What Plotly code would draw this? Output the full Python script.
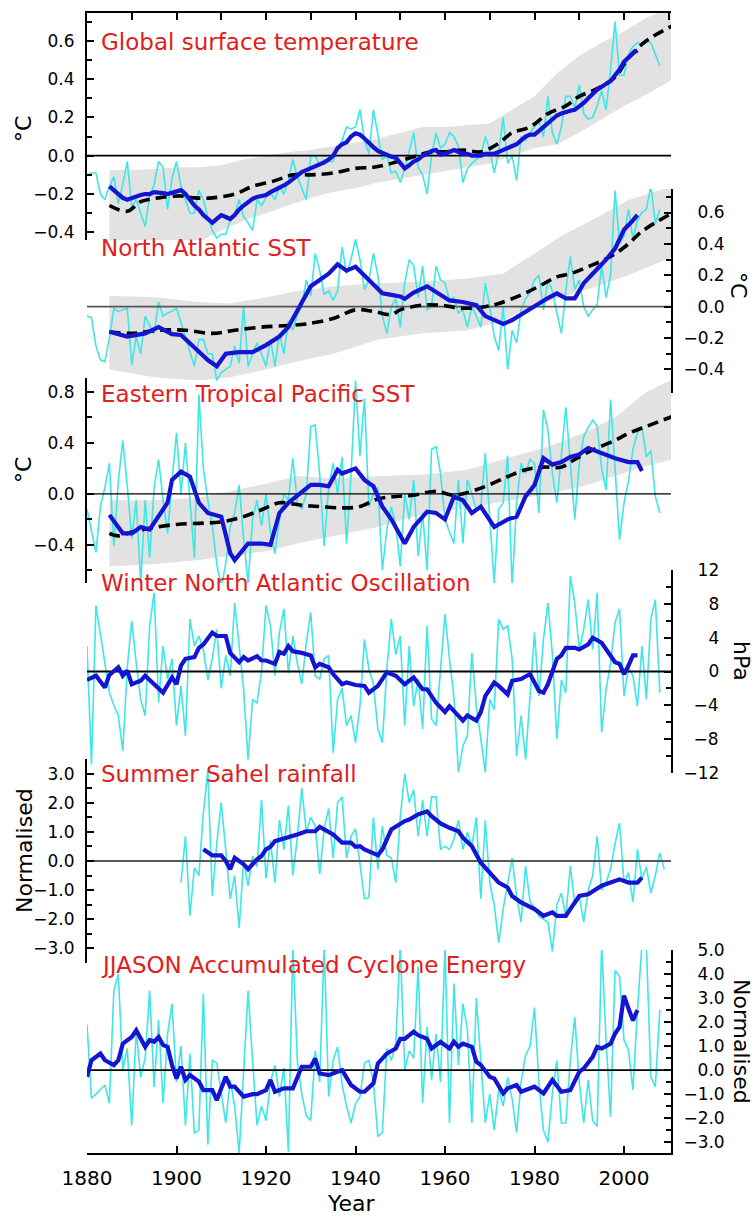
import plotly.graph_objects as go

# ---------------- canvas / layout geometry ----------------
W, H = 756, 1216
ML, MR, MT, MB = 87, 85, 13, 63
PW = W - ML - MR
PH = H - MT - MB
X_RANGE = [1880, 2010.5]


def ypap(px):
    return (H - MB - px) / PH


def xpap(px):
    return (px - ML) / PW


FONT = "DejaVu Sans"
CYAN = "#3ee6e6"
BLUE = "#1414d2"
GREY = "#e2e2e2"
RED = "#e0201c"

# ---------------- DATA ----------------
# Panel 1: Global surface temperature (annual, from 1880)
glob_start = 1880
glob_annual = [-0.10, -0.09, -0.09, -0.20, -0.23, -0.16, -0.11, -0.25, -0.15, -0.03,
               -0.27, -0.23, -0.30, -0.37, -0.21, -0.15, -0.03, -0.06, -0.28, -0.12,
               -0.03, -0.16, -0.23, -0.30, -0.30, -0.18, -0.23, -0.32, -0.39, -0.43,
               -0.41, -0.41, -0.34, -0.30, -0.23, -0.32, -0.35, -0.39, -0.23, -0.26,
               -0.22, -0.19, -0.23, -0.16, -0.20, -0.13, -0.02, -0.11, -0.17, -0.23,
               0.00, 0.00, -0.05, -0.02, -0.03, -0.03, 0.04, 0.08, 0.15, 0.14,
               0.15, 0.24, 0.08, 0.01, 0.24, 0.10, -0.02, 0.00, -0.09, -0.08,
               -0.14, -0.07, 0.02, 0.12, -0.06, -0.10, -0.20, 0.00, 0.12, 0.04,
               0.06, 0.12, 0.10, 0.05, -0.14, -0.07, -0.04, -0.02, 0.00, 0.10,
               0.03, -0.09, 0.02, 0.20, -0.04, 0.00, -0.13, 0.10, 0.08, 0.12,
               0.15, 0.18, 0.10, 0.31, 0.12, 0.06, 0.15, 0.31, 0.31, 0.25,
               0.37, 0.22, 0.19, 0.20, 0.26, 0.34, 0.24, 0.45, 0.70, 0.42,
               0.42, 0.53, 0.57, 0.59, 0.58, 0.60, 0.59, 0.53, 0.47]
glob_smooth_start = 1885
glob_smooth = [-0.16, -0.18, -0.20, -0.22, -0.23, -0.22, -0.21, -0.205, -0.20, -0.20,
               -0.19, -0.19, -0.195, -0.20, -0.195, -0.185, -0.18, -0.20, -0.23, -0.26,
               -0.28, -0.31, -0.33, -0.35, -0.33, -0.31, -0.32, -0.33, -0.31, -0.28,
               -0.26, -0.24, -0.225, -0.215, -0.21, -0.205, -0.19, -0.18, -0.17, -0.155,
               -0.14, -0.12, -0.10, -0.085, -0.075, -0.065, -0.055, -0.05, -0.035, -0.02,
               0.00, 0.04, 0.06, 0.07, 0.10, 0.117, 0.11, 0.09, 0.065, 0.045,
               0.025, 0.015, 0.00, -0.005, -0.01, -0.04, -0.066, -0.05, -0.03, -0.02,
               0.00, 0.01, 0.025, 0.03, 0.005, 0.01, 0.02, 0.03, 0.02, 0.01,
               0.01, 0.00, 0.00, 0.00, 0.01, 0.01, 0.01, 0.02, 0.03, 0.04,
               0.05, 0.06, 0.08, 0.10, 0.11, 0.11, 0.13, 0.15, 0.17, 0.19,
               0.21, 0.22, 0.23, 0.235, 0.24, 0.255, 0.275, 0.30, 0.325, 0.345,
               0.36, 0.375, 0.39, 0.42, 0.45, 0.49, 0.515, 0.535, 0.55]
glob_model_years = [1885, 1889, 1892, 1896, 1901, 1904, 1908, 1913, 1917, 1922, 1926, 1930,
                    1935, 1940, 1944, 1948, 1953, 1957, 1960, 1964, 1968, 1972, 1975, 1979,
                    1983, 1987, 1990, 1994, 1998, 2001, 2005, 2011]
glob_model = [-0.26, -0.29, -0.24, -0.22, -0.21, -0.22, -0.22, -0.20, -0.16, -0.13, -0.10, -0.10,
              -0.09, -0.066, -0.06, -0.04, -0.005, 0.02, 0.02, 0.03, 0.02, 0.065, 0.12, 0.15,
              0.22, 0.26, 0.31, 0.35, 0.41, 0.51, 0.60, 0.68]
glob_band_years = [1885, 1890, 1895, 1900, 1905, 1910, 1915, 1920, 1925, 1930, 1935, 1940, 1945,
                   1950, 1955, 1960, 1965, 1970, 1975, 1980, 1985, 1990, 1995, 2000, 2005, 2011]
glob_band_hi = [-0.075, -0.075, -0.07, -0.06, -0.06, -0.05, -0.02, 0.00, 0.02, 0.03, 0.05, 0.07,
                0.09, 0.12, 0.15, 0.15, 0.16, 0.17, 0.24, 0.31, 0.43, 0.52, 0.59, 0.65, 0.72, 0.78]
glob_band_lo = [-0.47, -0.47, -0.47, -0.46, -0.45, -0.39, -0.34, -0.30, -0.26, -0.22, -0.19, -0.17,
                -0.14, -0.12, -0.10, -0.08, -0.06, -0.04, 0.00, 0.04, 0.06, 0.12, 0.19, 0.26, 0.32, 0.40]

# Panel 2: North Atlantic SST
nat_start = 1880
nat_annual = [-0.06, -0.07, -0.25, -0.34, -0.35, -0.20, -0.01, -0.03, -0.02, -0.01,
              -0.37, -0.19, -0.30, -0.06, -0.12, -0.17, 0.03, -0.06, -0.04, -0.03,
              -0.01, -0.10, -0.19, -0.28, -0.38, -0.21, -0.21, -0.30, -0.30, -0.47,
              -0.42, -0.40, -0.38, -0.25, -0.36, 0.00, -0.38, -0.30, -0.23, -0.30,
              -0.38, -0.21, -0.38, -0.17, -0.30, -0.09, -0.15, -0.05, 0.00, 0.17,
              0.07, 0.34, 0.23, 0.08, 0.10, 0.04, 0.10, 0.38, 0.21, 0.30,
              0.43, 0.30, 0.11, 0.17, 0.34, 0.20, -0.06, -0.17, 0.00, 0.05,
              -0.13, 0.15, 0.30, 0.26, 0.06, 0.26, -0.02, 0.00, 0.26, 0.17,
              0.15, 0.04, 0.06, -0.04, -0.02, -0.13, 0.00, -0.06, -0.13, 0.15,
              0.00, -0.19, -0.28, 0.00, -0.40, -0.15, -0.23, -0.02, 0.05, 0.09,
              0.17, 0.20, -0.02, 0.17, 0.10, -0.04, -0.17, 0.10, 0.32, 0.11,
              0.17, 0.00, -0.06, -0.02, 0.01, 0.26, 0.06, 0.20, 0.74, 0.40,
              0.45, 0.62, 0.43, 0.55, 0.60, 0.62, 0.77, 0.53, 0.62]
nat_smooth_years = [1885, 1889, 1893, 1896, 1899, 1901, 1904, 1907, 1909, 1911, 1914, 1917, 1920,
                    1923, 1925, 1928, 1930, 1932, 1934, 1936, 1938, 1940, 1943, 1946, 1948, 1950,
                    1951, 1953, 1956, 1959, 1961, 1964, 1967, 1969, 1973, 1975, 1978, 1981, 1983,
                    1985, 1987, 1989, 1991, 1993, 1996, 1998, 2000, 2002, 2003]
nat_smooth = [-0.16, -0.19, -0.17, -0.13, -0.175, -0.18, -0.26, -0.34, -0.38, -0.30, -0.29, -0.29,
              -0.245, -0.19, -0.13, 0.02, 0.13, 0.17, 0.21, 0.27, 0.23, 0.255, 0.17, 0.085, 0.075,
              0.065, 0.05, 0.09, 0.13, 0.075, 0.04, 0.03, 0.01, -0.06, -0.11, -0.085, -0.03, 0.02,
              0.055, 0.085, 0.053, 0.053, 0.15, 0.21, 0.30, 0.37, 0.49, 0.55, 0.585]
nat_model_years = [1885, 1890, 1896, 1902, 1908, 1913, 1919, 1925, 1929, 1935, 1940, 1944, 1948,
                   1950, 1955, 1959, 1964, 1969, 1972, 1977, 1981, 1985, 1988, 1992, 1997, 2001,
                   2004, 2011]
nat_model = [-0.16, -0.17, -0.15, -0.15, -0.17, -0.15, -0.13, -0.12, -0.11, -0.075, -0.02, -0.03,
             -0.05, -0.02, 0.01, 0.01, -0.01, 0.00, 0.02, 0.075, 0.13, 0.19, 0.21, 0.255, 0.32,
             0.40, 0.48, 0.60]
nat_band_years = [1885, 1895, 1905, 1912, 1920, 1927, 1935, 1945, 1955, 1965, 1973, 1979, 1986,
                  1994, 2001, 2011]
nat_band_hi = [0.07, 0.06, 0.03, 0.02, 0.06, 0.10, 0.13, 0.15, 0.16, 0.18, 0.21, 0.32, 0.45,
               0.57, 0.68, 0.77]
nat_band_lo = [-0.40, -0.45, -0.47, -0.45, -0.40, -0.35, -0.30, -0.21, -0.17, -0.15, -0.09, 0.00,
               0.06, 0.13, 0.20, 0.32]

# Panel 3: Eastern Tropical Pacific SST
etp_start = 1880
etp_annual = [-0.12, -0.30, -0.46, -0.10, 0.05, 0.24, -0.41, 0.10, 0.42, 0.06,
              -0.35, -0.05, -0.70, -0.05, -0.50, 0.05, 0.27, -0.05, -0.31, 0.10,
              0.48, 0.00, 0.40, -0.05, -0.50, 0.78, 0.20, -0.05, -0.25, -0.55,
              -0.73, -0.55, -0.26, -0.15, 0.07, -0.35, -0.70, -0.20, -0.05, -0.25,
              0.00, -0.30, -0.47, -0.20, 0.00, -0.05, 0.28, -0.07, -0.12, 0.00,
              0.53, 0.54, 0.15, -0.41, 0.05, 0.24, 0.00, 0.29, -0.39, 0.15,
              0.89, 0.30, 0.75, -0.10, 0.00, 0.05, -0.60, -0.28, -0.10, -0.25,
              -0.57, 0.00, -0.20, 0.11, -0.49, -0.15, -0.60, 0.35, 0.37, 0.16,
              -0.20, -0.30, -0.39, 0.11, -0.39, 0.11, 0.00, -0.13, -0.10, 0.32,
              -0.20, -0.70, -0.12, -0.07, 0.30, -0.73, -0.07, 0.24, 0.16, 0.27,
              0.24, -0.15, 0.66, 0.50, 0.16, -0.07, 0.30, 0.68, 0.24, -0.20,
              0.24, 0.45, 0.52, 0.58, 0.53, 0.20, 0.03, 0.74, 0.20, -0.36,
              -0.07, 0.10, 0.35, 0.48, 0.53, 0.29, 0.34, -0.02, -0.15]
etp_smooth_years = [1885, 1888, 1890, 1892, 1894, 1896, 1898, 1899, 1901, 1903, 1905, 1907, 1910,
                    1912, 1913, 1916, 1919, 1921, 1923, 1925, 1928, 1930, 1932, 1934, 1936, 1937,
                    1940, 1942, 1944, 1946, 1948, 1951, 1953, 1956, 1958, 1960, 1962, 1964, 1966,
                    1968, 1971, 1974, 1976, 1978, 1980, 1982, 1984, 1986, 1988, 1990, 1992, 1995,
                    1998, 2001, 2003, 2004]
etp_smooth = [-0.165, -0.31, -0.31, -0.26, -0.28, -0.18, -0.07, 0.11, 0.175, 0.135, -0.07, -0.15,
              -0.18, -0.465, -0.52, -0.39, -0.39, -0.40, -0.15, -0.07, 0.02, 0.07, 0.07, 0.06,
              0.19, 0.16, 0.20, 0.11, 0.06, -0.10, -0.20, -0.39, -0.26, -0.14, -0.15, -0.20,
              -0.02, -0.05, -0.15, -0.10, -0.26, -0.20, -0.18, -0.02, 0.07, 0.28, 0.23, 0.25,
              0.29, 0.31, 0.36, 0.32, 0.28, 0.25, 0.25, 0.18]
etp_model_years = [1885, 1887, 1890, 1894, 1900, 1906, 1910, 1914, 1919, 1923, 1928, 1932, 1937,
                   1941, 1945, 1949, 1953, 1958, 1962, 1968, 1974, 1978, 1982, 1986, 1989, 1993,
                   1998, 2001, 2005, 2011]
etp_model = [-0.31, -0.33, -0.30, -0.27, -0.24, -0.23, -0.22, -0.19, -0.125, -0.07, -0.09, -0.10,
             -0.11, -0.10, -0.04, -0.02, -0.01, 0.02, -0.01, 0.045, 0.135, 0.19, 0.21, 0.21,
             0.27, 0.345, 0.42, 0.475, 0.53, 0.61]
etp_band_years = [1885, 1895, 1905, 1912, 1920, 1927, 1935, 1945, 1955, 1965, 1975, 1983, 1991,
                  1998, 2005, 2011]
etp_band_hi = [-0.05, -0.05, -0.03, 0.02, 0.08, 0.14, 0.12, 0.14, 0.15, 0.19, 0.29, 0.37, 0.48,
               0.60, 0.80, 0.90]
etp_band_lo = [-0.57, -0.55, -0.52, -0.49, -0.45, -0.39, -0.33, -0.26, -0.16, -0.11, -0.05, 0.00,
               0.06, 0.14, 0.22, 0.27]

# Panel 4: Winter North Atlantic Oscillation (hPa)
nao_start = 1880
nao_annual = [3.0, -11.0, 7.8, 4.6, 1.0, -2.5, -4.0, -5.2, -9.4, 0.5,
              6.0, 1.0, -3.3, -5.2, 5.4, 9.3, -3.7, 3.0, -0.9, 1.5,
              -6.4, -1.7, -7.6, 6.2, 3.0, 4.2, 2.6, -1.0, 1.5, 5.0,
              -2.0, 1.9, -0.5, 8.1, 2.6, -2.1, -10.4, -3.3, -3.7, 0.0,
              7.8, 5.4, -0.5, 4.6, 7.4, -0.2, 4.2, 1.0, -1.5, 3.4,
              7.0, -0.5, -0.9, 1.5, 1.9, -9.6, -3.3, -2.0, -6.4, -5.2,
              -8.4, -4.0, 3.8, 0.3, -1.5, -6.8, -8.4, 0.3, 6.2, 2.0,
              4.2, -6.4, 3.0, -4.1, -0.9, -6.8, 5.4, -5.6, -6.4, 0.0,
              6.8, 1.5, -3.0, -11.9, -8.8, -7.6, 2.2, -4.1, -8.0, -11.9,
              -3.3, -4.5, 6.2, 5.0, 5.4, 1.5, -10.0, -5.2, -10.4, -3.0,
              4.6, -2.9, 3.8, 8.1, 2.0, -8.0, -1.0, -2.5, 11.3, 8.1,
              2.6, 5.0, 8.5, 2.6, 9.3, -7.2, -2.1, 1.0, 5.8, 7.4,
              -2.9, 0.5, -0.5, -4.1, 3.0, -3.3, 6.2, 8.5, -2.5]
nao_smooth_years = [1880, 1882, 1884, 1885, 1887, 1888, 1889, 1890, 1892, 1893, 1895, 1897, 1899,
                    1900, 1901, 1902, 1904, 1905, 1906, 1908, 1909, 1911, 1912, 1914, 1915, 1916,
                    1918, 1919, 1920, 1922, 1923, 1924, 1925, 1926, 1928, 1930, 1931, 1932, 1934,
                    1935, 1937, 1938, 1940, 1942, 1943, 1945, 1947, 1949, 1951, 1953, 1955, 1956,
                    1958, 1960, 1961, 1964, 1965, 1967, 1968, 1969, 1971, 1972, 1974, 1975, 1977,
                    1979, 1981, 1982, 1983, 1985, 1986, 1987, 1989, 1990, 1992, 1993, 1995, 1996,
                    1997, 1998, 1999, 2000, 2001, 2002, 2003]
nao_smooth = [-1.0, -0.5, -1.9, -0.4, 0.5, -0.5, 0.1, -1.5, -1.1, -0.5, -1.5, -2.5, -0.7,
              -1.5, 0.7, 1.5, 1.7, 2.8, 3.2, 4.6, 4.2, 4.2, 2.2, 1.1, 1.7, 1.3,
              1.8, 1.3, 1.3, 0.9, 2.3, 2.1, 3.0, 2.4, 2.2, 1.9, 0.5, 0.9, 0.5,
              -0.3, -1.5, -1.3, -1.6, -1.7, -2.5, -1.7, -0.1, -0.5, -1.5, -0.7, -2.1, -2.1,
              -3.7, -4.8, -4.1, -5.8, -5.2, -5.8, -4.8, -2.9, -1.3, -1.7, -2.7, -1.1, -0.9,
              -0.3, -2.3, -2.5, -1.5, 1.5, 1.9, 2.8, 2.8, 2.6, 3.2, 4.0, 3.4, 2.6,
              1.9, 1.1, 0.9, -0.3, 0.7, 1.9, 1.9]

# Panel 5: Summer Sahel rainfall (normalised)
sahel_start = 1901
sahel_annual = [-0.74, 0.85, -1.88, -0.23, -0.50, 1.65, 3.10, -1.20, 0.60, 2.00,
                0.40, -1.30, -0.50, -2.30, 0.00, -0.85, 0.17, -0.20, 2.10, -0.60,
                0.70, -0.74, 1.40, 0.40, 1.90, -0.50, 0.80, 2.50, 1.00, 1.50,
                1.20, -0.45, 1.10, 1.80, 0.10, 2.00, 2.20, 0.10, 0.85, 1.10,
                -0.10, -1.30, -1.25, 1.50, -0.30, 1.20, 0.20, 0.10, -0.74, 1.50,
                3.00, 2.00, 2.45, 0.85, 2.10, 0.85, 2.20, 2.20, 0.40, 0.50,
                0.40, 0.74, 1.40, 0.40, 1.00, 0.50, 1.50, -1.30, 1.40, -0.74,
                -1.50, -2.80, -1.65, -0.74, 0.10, -1.20, -2.10, -0.17, -1.40, -1.60,
                -1.90, -2.00, -2.10, -3.10, -1.50, -1.10, -1.90, -0.17, -1.50, -1.20,
                -2.10, -1.00, -0.50, 0.85, -1.00, -0.74, -0.28, 0.60, 1.30, -0.74,
                -0.40, -1.40, 0.40, -0.63, -0.20, -1.10, -0.50, 0.28, -0.28]
sahel_smooth_years = [1906, 1908, 1910, 1911, 1912, 1913, 1915, 1916, 1918, 1919, 1920, 1921,
                      1922, 1924, 1925, 1927, 1929, 1931, 1932, 1934, 1935, 1937, 1939, 1940,
                      1941, 1942, 1944, 1945, 1946, 1947, 1948, 1951, 1952, 1954, 1956, 1957,
                      1959, 1961, 1963, 1964, 1966, 1968, 1970, 1972, 1974, 1975, 1977, 1980,
                      1982, 1984, 1985, 1987, 1988, 1990, 1992, 1995, 1997, 1999, 2001, 2003,
                      2004]
sahel_smooth = [0.40, 0.19, 0.19, 0.00, -0.28, 0.11, -0.11, -0.28, 0.06, 0.17, 0.40, 0.49,
                0.68, 0.76, 0.83, 0.91, 1.02, 1.02, 1.17, 1.02, 0.91, 0.63, 0.63, 0.49,
                0.51, 0.40, 0.28, 0.20, 0.40, 0.74, 1.08, 1.37, 1.42, 1.60, 1.70, 1.54,
                1.29, 1.14, 1.02, 0.80, 0.51, -0.06, -0.40, -0.74, -0.91, -1.20, -1.42, -1.65,
                -1.88, -1.76, -1.88, -1.88, -1.65, -1.20, -1.14, -0.85, -0.74, -0.63, -0.74, -0.74,
                -0.57]

# Panel 6: JJASON Accumulated Cyclone Energy (normalised)
ace_start = 1880
ace_annual = [1.90, -1.18, -1.00, -0.80, -0.62, -1.38, 3.30, 4.00, 0.00, 0.90,
              -2.30, 1.66, -0.30, 0.50, 3.30, -0.70, 2.10, -1.38, 1.50, 2.77,
              -0.50, 1.00, -2.30, 0.69, -2.63, -2.50, 3.18, -3.10, 0.41, 0.30,
              -0.90, -2.20, -0.40, -1.50, -3.46, -0.20, 3.30, 0.40, -2.30, -1.50,
              -2.10, -0.50, 0.20, -1.10, 0.10, -3.40, 5.20, 0.40, -1.00, -1.90,
              -2.10, 0.80, -0.50, 5.20, -1.10, 0.40, 0.97, -0.60, -1.50, -2.20,
              -1.40, -1.10, 0.30, 0.40, -0.50, -2.77, -2.60, 0.90, 0.40, 1.10,
              5.20, 0.00, 0.80, 0.50, 4.30, -1.38, 1.80, -0.40, 1.50, -0.50,
              5.20, -2.20, 3.60, 0.20, 2.77, 1.70, -2.20, 3.00, 0.40, -2.20,
              -1.00, -2.50, -0.80, -1.50, -0.30, -1.20, -2.60, -0.50, 0.60, 1.00,
              2.60, -0.55, -2.50, -3.00, -0.97, 0.40, -2.20, -2.20, 0.40, 2.20,
              -0.50, -2.20, -0.40, -2.10, -2.35, 5.20, 1.20, -1.94, 4.15, 3.90,
              1.25, 0.83, -0.83, 2.50, 5.20, 5.20, -0.28, -0.70, 2.50]
ace_smooth_years = [1880, 1881, 1883, 1884, 1886, 1887, 1888, 1890, 1891, 1892, 1893, 1894, 1895,
                    1896, 1897, 1898, 1899, 1900, 1901, 1902, 1903, 1905, 1906, 1908, 1909, 1911,
                    1912, 1913, 1915, 1917, 1918, 1920, 1921, 1922, 1924, 1926, 1928, 1930, 1931,
                    1932, 1934, 1937, 1939, 1941, 1942, 1944, 1945, 1947, 1949, 1950, 1951, 1953,
                    1954, 1956, 1957, 1959, 1961, 1962, 1963, 1964, 1966, 1967, 1968, 1970, 1971,
                    1973, 1974, 1976, 1977, 1980, 1982, 1984, 1986, 1988, 1990, 1991, 1993, 1994,
                    1995, 1997, 1998, 1999, 2000, 2001, 2002, 2003]
ace_smooth = [-0.28, 0.41, 0.69, 0.41, 0.21, 0.41, 1.10, 1.38, 1.66, 1.30, 0.97, 1.25, 1.18,
              1.38, 1.04, 0.97, 0.21, -0.35, 0.14, -0.41, -0.21, -0.48, -0.83, -0.83, -1.25, -0.28,
              -0.69, -0.69, -1.10, -1.00, -1.00, -0.83, -0.41, -0.90, -0.76, -0.76, 0.14, 0.14, 0.48,
              -0.14, -0.21, 0.00, -0.62, -0.90, -0.90, -0.55, 0.28, 0.69, 0.90, 1.30, 1.30, 1.60,
              1.45, 1.30, 0.90, 1.18, 0.90, 1.18, 0.97, 1.10, 0.97, 0.35, 0.21, -0.28, -0.35,
              -0.97, -0.76, -0.62, -0.90, -0.69, -0.97, -0.41, -0.90, -0.83, -0.07, 0.07, 0.55, 0.97,
              0.90, 1.10, 1.52, 1.80, 3.10, 2.56, 2.07, 2.50]

# Axis tick values / labels
p1_ticks = [-0.4, -0.2, 0.0, 0.2, 0.4, 0.6]
p2_ticks = [-0.4, -0.2, 0.0, 0.2, 0.4, 0.6]
p3_ticks = [-0.4, 0.0, 0.4, 0.8]
p4_ticks = [-12, -8, -4, 0, 4, 8, 12]
p5_ticks = [-3, -2, -1, 0, 1, 2, 3]
p6_ticks = [-3, -2, -1, 0, 1, 2, 3, 4, 5]
year_ticks = [1880, 1900, 1920, 1940, 1960, 1980, 2000]

titles = ["Global surface temperature", "North Atlantic SST", "Eastern Tropical Pacific SST",
          "Winter North Atlantic Oscillation", "Summer Sahel rainfall",
          "JJASON Accumulated Cyclone Energy"]


# ---------------- helpers ----------------
def fmt(v, dec):
    s = f"{abs(v):.{dec}f}"
    return ("\u2212" + s) if v < 0 else s


def em_width(s):
    w = 0.0
    for ch in s:
        if ch.isdigit():
            w += 0.636
        elif ch == ".":
            w += 0.318
        elif ch == "\u2212":
            w += 0.838
    return w


def right_aligned(labels):
    target = max(em_width(s) for s in labels)
    out = []
    for s in labels:
        pad = target - em_width(s)
        nfs = int(pad // 0.636 + 1e-6)
        rem = pad - nfs * 0.636
        nth = int(round(rem / 0.2))
        out.append("\u2007" * nfs + "\u2009" * nth + s)
    return out


fig = go.Figure()

panels = [
    dict(ax="y", dom=(13, 240), rng=[-0.44, 0.745], side="left", ticks=p1_ticks, dec=1, minor=0.1,
         zcol="black", zw=1.8),
    dict(ax="y2", dom=(189, 393), rng=[-0.55, 0.75], side="right", ticks=p2_ticks, dec=1, minor=0.1,
         zcol="#555555", zw=1.8),
    dict(ax="y3", dom=(378, 583), rng=[-0.70, 0.91], side="left", ticks=p3_ticks, dec=1, minor=0.2,
         zcol="black", zw=1.2),
    dict(ax="y4", dom=(570, 773), rng=[-12, 12], side="right", ticks=p4_ticks, dec=0, minor=2,
         zcol="black", zw=1.8),
    dict(ax="y5", dom=(759, 963), rng=[-3.5, 3.5], side="left", ticks=p5_ticks, dec=1, minor=0.5,
         zcol="#555555", zw=1.8),
    dict(ax="y6", dom=(950, 1153), rng=[-3.45, 5.0], side="right", ticks=p6_ticks, dec=1, minor=0.5,
         zcol="black", zw=1.8),
]

annual = [(glob_start, glob_annual), (nat_start, nat_annual), (etp_start, etp_annual),
          (nao_start, nao_annual), (sahel_start, sahel_annual), (ace_start, ace_annual)]
smooth = [(list(range(glob_smooth_start, glob_smooth_start + len(glob_smooth))), glob_smooth),
          (nat_smooth_years, nat_smooth), (etp_smooth_years, etp_smooth),
          (nao_smooth_years, nao_smooth), (sahel_smooth_years, sahel_smooth),
          (ace_smooth_years, ace_smooth)]
models = {0: (glob_model_years, glob_model), 1: (nat_model_years, nat_model),
          2: (etp_model_years, etp_model)}
bands = {0: (glob_band_years, glob_band_lo, glob_band_hi),
         1: (nat_band_years, nat_band_lo, nat_band_hi),
         2: (etp_band_years, etp_band_lo, etp_band_hi)}

for i, p in enumerate(panels):
    ya = p["ax"]
    if i in bands:
        by, lo, hi = bands[i]
        fig.add_trace(go.Scatter(x=by, y=lo, yaxis=ya, mode="lines", line=dict(width=0, color=GREY),
                                 showlegend=False, hoverinfo="skip"))
        fig.add_trace(go.Scatter(x=by, y=hi, yaxis=ya, mode="lines", line=dict(width=0, color=GREY),
                                 fill="tonexty", fillcolor=GREY, showlegend=False, hoverinfo="skip"))
    st, vals = annual[i]
    fig.add_trace(go.Scatter(x=list(range(st, st + len(vals))), y=vals, yaxis=ya, mode="lines",
                             line=dict(color=CYAN, width=1.6), showlegend=False))
    fig.add_trace(go.Scatter(x=X_RANGE, y=[0, 0], yaxis=ya, mode="lines",
                             line=dict(color=p["zcol"], width=p["zw"]), showlegend=False,
                             hoverinfo="skip"))
    if i in models:
        my, mv = models[i]
        fig.add_trace(go.Scatter(x=my, y=mv, yaxis=ya, mode="lines",
                                 line=dict(color="black", width=3.6, dash="11px,6px"),
                                 line_shape="spline", showlegend=False))
    sy, sv = smooth[i]
    fig.add_trace(go.Scatter(x=sy, y=sv, yaxis=ya, mode="lines",
                             line=dict(color=BLUE, width=4.2), showlegend=False))

# empty trace to realise the top decorative axis
fig.add_trace(go.Scatter(x=[], y=[], xaxis="x2", yaxis="y", showlegend=False))

layout = dict(
    width=W, height=H, autosize=False,
    margin=dict(l=ML, r=MR, t=MT, b=MB, pad=0, autoexpand=False),
    paper_bgcolor="white", plot_bgcolor="rgba(0,0,0,0)",
    font=dict(family=FONT, color="black"),
    showlegend=False,
    xaxis=dict(domain=[0, 1], range=X_RANGE, anchor="y6", side="bottom", automargin=False,
               tickmode="array", tickvals=year_ticks, ticktext=[str(t) for t in year_ticks],
               ticks="inside", ticklen=7, tickwidth=2, tickcolor="black",
               showline=True, linewidth=2, linecolor="black", showgrid=False, zeroline=False,
               tickfont=dict(family=FONT, size=20), ticklabelstandoff=6),
    xaxis2=dict(range=X_RANGE, overlaying="x", matches="x", anchor="y", side="top",
                automargin=False,
                tickmode="linear", tick0=1880, dtick=10, ticks="inside", ticklen=7, tickwidth=2,
                tickcolor="black", showticklabels=False, showline=True, linewidth=2,
                linecolor="black", showgrid=False, zeroline=False),
)

for i, p in enumerate(panels):
    key = "yaxis" if i == 0 else f"yaxis{i + 1}"
    labels = [fmt(v, p["dec"]) for v in p["ticks"]]
    if p["side"] == "right":
        labels = right_aligned(labels)
    layout[key] = dict(
        domain=[ypap(p["dom"][1]), ypap(p["dom"][0])], range=p["rng"], anchor="x",
        side=p["side"], automargin=False, tickmode="array", tickvals=p["ticks"], ticktext=labels,
        ticks="inside", ticklen=7, tickwidth=2, tickcolor="black",
        minor=dict(tickmode="linear", tick0=0, dtick=p["minor"], ticks="inside", ticklen=5,
                   tickwidth=2, tickcolor="black", showgrid=False),
        showline=True, linewidth=2, linecolor="black", showgrid=False, zeroline=False,
        tickfont=dict(family=FONT, size=17), ticklabelstandoff=7,
    )

fig.update_layout(**layout)

# Panel titles
title_y = [42, 248, 394, 583, 774, 965]
for t, yy in zip(titles, title_y):
    fig.add_annotation(text=t, xref="paper", yref="paper", x=xpap(99), y=ypap(yy),
                       xanchor="left", yanchor="middle", showarrow=False,
                       font=dict(family=FONT, size=23, color=RED))

# Axis titles
ax_titles = [("\u00b0C", 23, 129, -90), ("\u00b0C", 738, 285, 90), ("\u00b0C", 23, 470, -90),
             ("hPa", 742, 661, 90), ("Normalised", 24, 851, -90), ("Normalised", 742, 1041, 90)]
for txt, xx, yy, ang in ax_titles:
    fig.add_annotation(text=txt, xref="paper", yref="paper", x=xpap(xx), y=ypap(yy),
                       xanchor="center", yanchor="middle", showarrow=False, textangle=ang,
                       font=dict(family=FONT, size=22, color="black"))
fig.add_annotation(text="Year", xref="paper", yref="paper", x=xpap(351), y=ypap(1203),
                   xanchor="center", yanchor="middle", showarrow=False,
                   font=dict(family=FONT, size=22, color="black"))

fig.write_html("out.html")
